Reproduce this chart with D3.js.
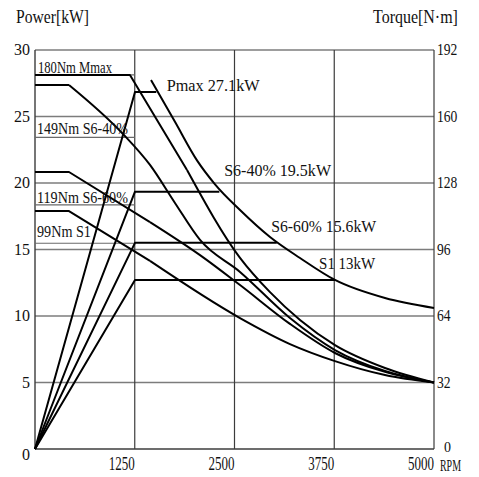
<!DOCTYPE html>
<html>
<head>
<meta charset="utf-8">
<script src="https://cdn.jsdelivr.net/npm/d3@7"></script>
<style>
  body { margin: 0; background: #fff; }
  svg text { font-family: "Liberation Serif", "DejaVu Serif", serif; fill: #111; }
</style>
</head>
<body>
<div id="chart"></div>
<script>
const rpmTicks = [1250, 2500, 3750, 5000];
const powerTicks = [0, 5, 10, 15, 20, 25, 30];
const torqueTicks = [0, 32, 64, 96, 128, 160, 192];

// power curves [rpm, kW]
const pmaxRise = [[0, 0], [1253, 26.85], [1520, 26.85]];
const pmaxFall = [[1454, 27.74], [1754, 24.6], [2030, 21.7], [2256, 19.9], [2569, 17.97],
                  [2945, 15.94], [3321, 14.36], [3759, 12.71], [4386, 11.35], [5000, 10.6]];
const s640Power = [[0, 0], [1253, 19.35], [2310, 19.35]];
const s660Power = [[0, 0], [1253, 15.5], [3030, 15.5]];
const s1Power = [[0, 0], [1253, 12.7], [3760, 12.7]];

// torque curves [rpm, Nm]
const mmaxTorque = [[0, 180], [1190, 180], [1905, 134.3], [2569, 92], [2945, 75.5], [3321, 62.1],
                    [3759, 50.0], [4386, 39.0], [5000, 32]];
const bTorque = [[0, 175.2], [426, 175.2], [1103, 151.6], [1441, 136.7], [1754, 118.4], [2068, 100.6],
                 [2569, 85.2], [3195, 63.0], [3759, 47.6], [4386, 37.5], [5000, 32]];
const cTorque = [[0, 133.3], [426, 133.3], [1441, 109.2], [2068, 93.3], [2569, 78.9], [3195, 60.2],
                 [3759, 46.2], [4386, 37.1], [5000, 32]];
const dTorque = [[0, 114.5], [426, 114.5], [1441, 90.5], [2569, 63.0], [3195, 50.5], [3759, 42.3],
                 [4386, 35.6], [5000, 32]];
// number of leading points drawn as straight segments
const torqueCurves = [[mmaxTorque, 3], [bTorque, 2], [cTorque, 3], [dTorque, 3]];

// thin torque reference lines, 0..1250 rpm
const torqueMarks = [180, 150, 117.5, 99];

const W = 479, H = 477;
const mLeft = 35, mRight = 434, mTop = 50, mBottom = 449;

const svg = d3.select("#chart").append("svg")
  .attr("width", W).attr("height", H);

const x = d3.scaleLinear().domain([0, 5000]).range([mLeft, mRight]);
const yP = d3.scaleLinear().domain([0, 30]).range([mBottom, mTop]);
const yT = d3.scaleLinear().domain([0, 192]).range([mBottom, mTop]);

// grid
const grid = svg.append("g");
grid.selectAll(".h").data(powerTicks.slice(1)).enter().append("line")
  .attr("x1", mLeft).attr("x2", mRight)
  .attr("y1", d => yP(d)).attr("y2", d => yP(d))
  .attr("stroke", "#7c7c7c").attr("stroke-width", 1.5);
grid.selectAll(".v").data(rpmTicks).enter().append("line")
  .attr("x1", d => x(d)).attr("x2", d => x(d))
  .attr("y1", mTop).attr("y2", mBottom)
  .attr("stroke", "#3c3c3c").attr("stroke-width", 1.2);
grid.append("line").attr("x1", mLeft).attr("x2", mLeft).attr("y1", mTop).attr("y2", mBottom)
  .attr("stroke", "#3c3c3c").attr("stroke-width", 1.4);
grid.append("line").attr("x1", mLeft).attr("x2", mRight).attr("y1", mBottom).attr("y2", mBottom)
  .attr("stroke", "#3c3c3c").attr("stroke-width", 1.6);

grid.selectAll(".t").data(torqueMarks).enter().append("line")
  .attr("x1", x(0)).attr("x2", x(1250))
  .attr("y1", d => yT(d)).attr("y2", d => yT(d))
  .attr("stroke", "#6a6a6a").attr("stroke-width", 1.2);

// curves
const lineP = d3.line().x(d => x(d[0])).y(d => yP(d[1]));
const lineT = d3.line().x(d => x(d[0])).y(d => yT(d[1]));
const curves = svg.append("g").attr("fill", "none").attr("stroke", "#000")
  .attr("stroke-width", 2).attr("stroke-linejoin", "round");

[pmaxRise, s640Power, s660Power, s1Power].forEach(s => {
  curves.append("path").attr("d", lineP(s));
});
curves.append("path").attr("d", lineP.curve(d3.curveMonotoneX)(pmaxFall));
lineP.curve(d3.curveLinear);

torqueCurves.forEach(([s, n]) => {
  curves.append("path").attr("d", lineT.curve(d3.curveLinear)(s.slice(0, n)));
  curves.append("path").attr("d", lineT.curve(d3.curveMonotoneX)(s.slice(n - 1)));
});

// text, squeezed horizontally to the width it has in the original
const txt = (t, px, py, size, len, anchor) => {
  const e = svg.append("text").attr("font-size", size).text(t);
  if (anchor) e.attr("text-anchor", anchor);
  let s = 1;
  if (len) s = len / e.node().getComputedTextLength();
  e.attr("transform", `translate(${px},${py}) scale(${s},1)`);
  return e;
};

txt("Power[kW]", 16, 23, 19, 73);
txt("Torque[N·m]", 373, 23, 19, 85);

powerTicks.forEach(d => {
  txt(String(d), mLeft - 5, d === 0 ? yP(d) + 11 : yP(d) + 5, 16, null, "end");
});
torqueTicks.forEach(d => {
  if (d === 0) txt("0", mRight + 10, yT(d) + 3, 14, 7);
  else txt(String(d), mRight + 3, yT(d) + 5, 17, String(d).length * 6.8);
});
rpmTicks.forEach(d => {
  txt(String(d), x(d), 470, 18, 26, "end");
});
txt("RPM", mRight + 6, 471, 16, 21);

// curve labels
txt("180Nm Mmax", x(0) + 3, yT(180) - 2, 17, 74);
txt("Pmax 27.1kW", x(1650), yP(26.85) - 1, 17, 93);
txt("149Nm S6-40%", x(0) + 2, yT(150) - 3, 17, 91);
txt("S6-40% 19.5kW", x(2370), yP(19.35) - 16, 17, 107);
txt("119Nm S6-60%", x(0) + 2, yT(117.5) - 2, 17, 91);
txt("S6-60% 15.6kW", x(2960), yP(15.5) - 11, 17, 105);
txt("99Nm S1", x(0) + 2, yT(99) - 6, 17, 54);
txt("S1 13kW", x(3560), yP(12.7) - 11, 17, 56);
</script>
</body>
</html>
